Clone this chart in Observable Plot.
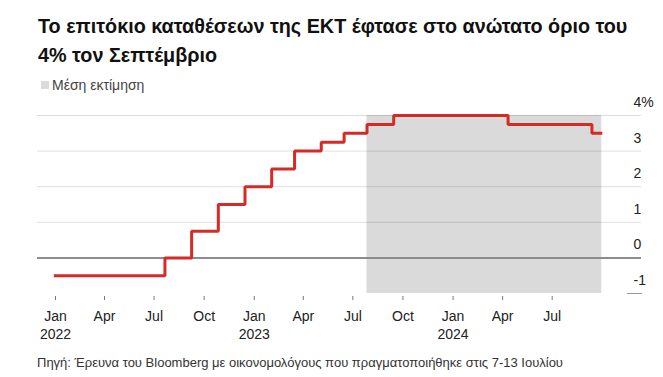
<!DOCTYPE html>
<html>
<head>
<meta charset="utf-8">
<script src="https://cdn.jsdelivr.net/npm/d3@7"></script>
<script src="https://cdn.jsdelivr.net/npm/@observablehq/plot@0.6"></script>
<style>
  html, body { margin: 0; padding: 0; background: #fff; }
  body { width: 663px; height: 377px; position: relative; overflow: hidden; font-family: "Liberation Sans", Arial, sans-serif; }
  #title { position: absolute; left: 38px; top: 12px; font-size: 19.8px; line-height: 29px; font-weight: bold; color: #111; white-space: nowrap; }
  #legend { position: absolute; left: 41px; top: 77px; height: 16px; font-size: 14px; line-height: 16px; color: #444; }
  #legend .sw { position: absolute; left: 0; top: 4px; width: 8px; height: 8px; background: #dadada; }
  #legend .lb { position: absolute; left: 11px; top: 0; white-space: nowrap; }
  #chart { position: absolute; left: 0; top: 95px; }
  #source { position: absolute; left: 37px; top: 355px; font-size: 13px; line-height: 15px; color: #333; white-space: nowrap; }
</style>
</head>
<body>
<div id="title">Το επιτόκιο καταθέσεων της ΕΚΤ έφτασε στο ανώτατο όριο του<br>4% τον Σεπτέμβριο</div>
<div id="legend"><span class="sw"></span><span class="lb">Μέση εκτίμηση</span></div>
<div id="chart"></div>
<div id="source">Πηγή: Έρευνα του Bloomberg με οικονομολόγους που πραγματοποιήθηκε στις 7-13 Ιουλίου</div>
<script>
// Deposit facility rate (step changes), actual + median forecast
const rateDates = ["2021-12-29","2022-07-21","2022-09-08","2022-10-27","2022-12-15","2023-02-02","2023-03-16","2023-05-04","2023-06-15","2023-07-27","2023-09-14","2024-04-11","2024-09-12","2024-10-01"];
const rateValues = [-0.5, 0, 0.75, 1.5, 2.0, 2.5, 3.0, 3.25, 3.5, 3.75, 4.0, 3.75, 3.5, 3.5];

// Forecast (median estimate) period
const forecastStart = ["2023-07-27"];
const forecastEnd = ["2024-09-30"];

// Axis ticks
const xTickDates = ["2022-01-01","2022-04-01","2022-07-01","2022-10-01","2023-01-01","2023-04-01","2023-07-01","2023-10-01","2024-01-01","2024-04-01","2024-07-01"];
const xTickLabels = ["Jan\n2022","Apr","Jul","Oct","Jan\n2023","Apr","Jul","Oct","Jan\n2024","Apr","Jul"];
const yTicks = [-1, 0, 1, 2, 3, 4];
const yTickLabels = ["-1", "0", "1", "2", "3", "4%"];

const rates = rateDates.map((d, i) => ({date: new Date(d), rate: rateValues[i]}));
const forecast = forecastStart.map((d, i) => ({start: new Date(d), end: new Date(forecastEnd[i])}));
const xLabelMap = new Map(xTickDates.map((d, i) => [+new Date(d), xTickLabels[i]]));
const yLabelMap = new Map(yTicks.map((v, i) => [v, yTickLabels[i]]));

const chart = Plot.plot({
  width: 663,
  height: 245,
  marginLeft: 37,
  marginRight: 22,
  marginTop: 20,
  marginBottom: 47,
  x: {type: "utc", domain: [new Date("2021-11-29"), new Date("2024-12-12")]},
  y: {domain: [-1, 4]},
  style: {fontFamily: "'Liberation Sans', Arial, sans-serif", fontSize: "14px", color: "#222", background: "transparent", overflow: "visible"},
  marks: [
    Plot.rect(forecast, {x1: "start", x2: "end", fill: "#dadada"}),
    Plot.gridY({ticks: [1, 2, 3, 4], stroke: "#000", strokeOpacity: 0.13}),
    Plot.ruleY([0], {stroke: "#8c8c8c", strokeWidth: 2}),
    Plot.axisY({anchor: "right", ticks: [-1], tickSize: 15, dx: -15, fill: "none", stroke: "#999", label: null}),
    Plot.axisY({anchor: "right", ticks: yTicks, tickSize: 0, tickPadding: 0, dx: -8, dy: -13, textAnchor: "start", tickFormat: v => yLabelMap.get(v), label: null, fill: "#222"}),
    Plot.axisX({ticks: xTickDates.map(d => new Date(d)), tickSize: 4, tickPadding: 7, dy: 3, tickFormat: d => xLabelMap.get(+d), lineHeight: 1.32, stroke: "#777", fill: "#222", label: null}),
    Plot.line(rates, {x: "date", y: "rate", curve: "step-after", stroke: "#d52b27", strokeWidth: 3, strokeLinejoin: "miter", strokeLinecap: "butt"})
  ]
});
document.getElementById("chart").appendChild(chart);
</script>
</body>
</html>
